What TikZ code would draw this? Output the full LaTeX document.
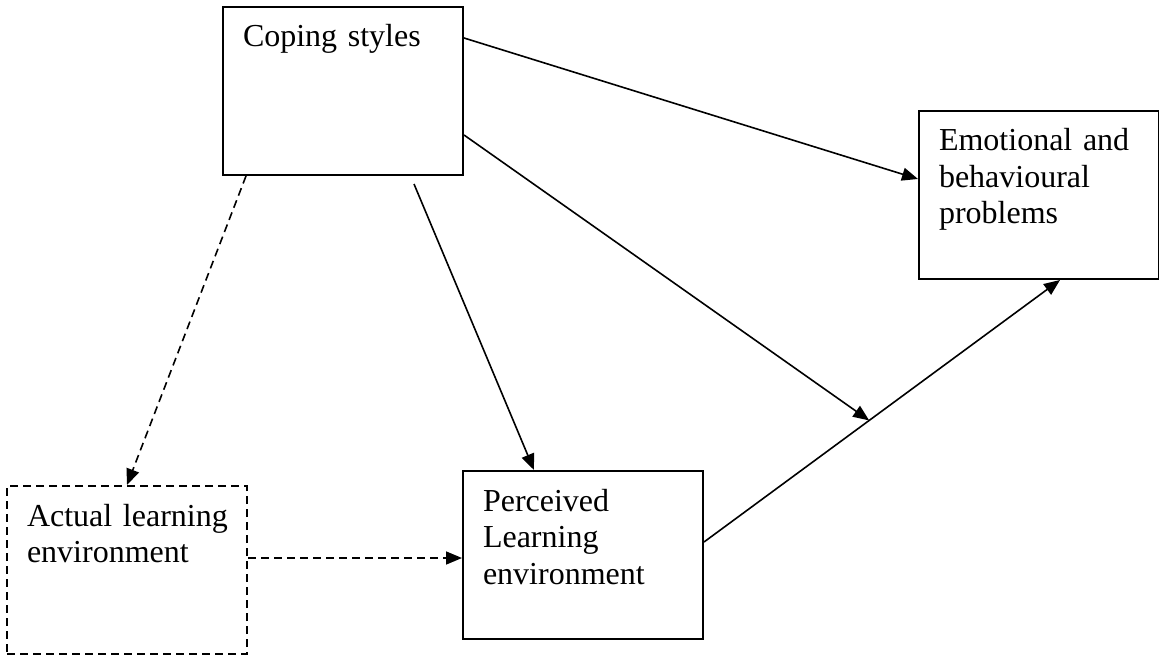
\documentclass[tikz,border=0pt]{standalone}
\usepackage{fontspec}
\setmainfont{Liberation Serif}
\usetikzlibrary{arrows.meta,calc}
\begin{document}
\begin{tikzpicture}[x=0.5pt, y=-0.5pt, >={Triangle[length=8pt,width=6.5pt]},
    box/.style={draw, line width=1pt, anchor=north west, inner xsep=10pt, inner ysep=0pt,
        text width=100pt, align=left, text height=20pt, text depth=64pt,
        font=\fontsize{16pt}{18.25pt}\selectfont},
    dbox/.style={box, dash pattern=on 4pt off 2.5pt},
    link/.style={->, line width=0.8pt},
    dlink/.style={link, dash pattern=on 4pt off 2.5pt}]
\useasboundingbox (0,0) rectangle (1159,657);
\node[box] (cope) at (222,6) {Coping styles};
\node[box] (emo) at (918,110) {\mbox{Emotional and}\\behavioural\\problems};
\node[dbox] (actual) at (6,485) {\mbox{Actual learning}\\environment};
\node[box] (perc) at (462,470) {Perceived\\Learning\\environment};
\draw[link] ([yshift=-36pt]perc.north east) -- ([xshift=71pt]emo.south west) coordinate[pos=.464] (meet);
\draw[link] ([yshift=-16pt]cope.north east) -- ([yshift=-34.5pt]emo.north west);
\draw[link] ([yshift=-64.5pt]cope.north east) -- (meet);
\draw[link] ([xshift=96pt,yshift=-4pt]cope.south west) -- ([xshift=36pt]perc.north west);
\draw[dlink] ([xshift=12pt]cope.south west) -- (actual.north);
\draw[dlink] ([yshift=-36.5pt]actual.north east) coordinate (a1) -- (a1 -| perc.west);
\end{tikzpicture}
\end{document}
